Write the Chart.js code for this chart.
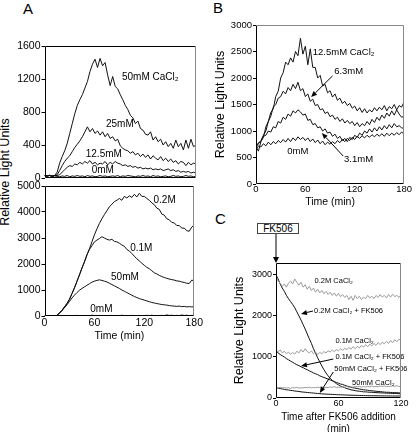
<!DOCTYPE html>
<html>
<head>
<meta charset="utf-8">
<script src="https://cdn.jsdelivr.net/npm/chart.js@4.4.1/dist/chart.umd.min.js"></script>
<style>
html, body { margin: 0; padding: 0; background: #fff; overflow: hidden; }
body { width: 416px; height: 432px; position: relative; font-family: 'Liberation Sans', Arial, sans-serif; }
canvas { position: absolute; }
.lbl { position: absolute; color: #000; font-size: 15px; line-height: 15px; }
</style>
</head>
<body>
<div class="lbl" style="left:23px;top:1px;">A</div>
<div class="lbl" style="left:213px;top:0px;">B</div>
<div class="lbl" style="left:215px;top:211px;">C</div>
<div style="position:absolute;left:-55px;top:165px;width:120px;height:14px;line-height:14px;font-size:12.5px;text-align:center;transform:rotate(-90deg);">Relative Light Units</div>
<div style="position:absolute;left:257px;top:223px;width:42px;height:11px;box-sizing:border-box;border:1px solid #444;font-size:10px;line-height:9px;text-align:center;">FK506</div>
<svg style="position:absolute;left:0;top:0" width="416" height="432">
  <line x1="276" y1="234" x2="276" y2="258" stroke="#000" stroke-width="1"/>
  <polygon points="273,257 279,257 276,263" fill="#000"/>
</svg>

<canvas id="aTop" width="204" height="152" style="left:0px;top:34px"></canvas>
<canvas id="aBot" width="204" height="172" style="left:0px;top:174px"></canvas>
<canvas id="bChart" width="200" height="200" style="left:212px;top:12px"></canvas>
<canvas id="cChart" width="184" height="186" style="left:232px;top:250px"></canvas>

<script>
// --- time axes (min) ---
const tA = [0,3,6,9,12,15,18,21,24,27,30,33,36,39,42,45,48,51,54,57,60,63,66,69,72,75,78,81,84,87,90,93,96,99,102,105,108,111,114,117,120,123,126,129,132,135,138,141,144,147,150,153,156,159,162,165,168,171,174,177,180];
const tC = [0,2,4,6,8,10,12,14,16,18,20,22,24,26,28,30,32,34,36,38,40,42,44,46,48,50,52,54,56,58,60,62,64,66,68,70,72,74,76,78,80,82,84,86,88,90,92,94,96,98,100,102,104,106,108,110,112,114,116,118,120];

// --- tick labels ---
const ticksTime180 = [0, 60, 120, 180];
const ticksTime120 = [0, 60, 120];
const ticksATop = [0, 400, 800, 1200, 1600];
const ticksABot = [0, 1000, 2000, 3000, 4000, 5000];
const ticksB = [0, 500, 1000, 1500, 2000, 2500, 3000];
const ticksC = [0, 1000, 2000, 3000];

// --- Panel A, top (CaCl2 mM) ---
const aTop50 = [30,25,35,20,30,70,180,260,330,420, 540,660,780,880,950,1010,1090,1170,1290,1380, 1440,1340,1450,1360,1400,1250,1120,1230,1110,1080, 1010,950,880,830,760,730,660,690,600,580, 530,520,560,460,500,440,470,400,440,380, 420,360,460,380,420,340,460,360,470,380, 400];
const aTop25 = [30,25,30,25,30,40,90,150,200,240, 270,320,370,410,450,500,560,620,560,600, 540,570,520,560,500,540,480,500,450,470, 390,360,340,330,300,320,280,300,260,290, 250,280,230,270,240,220,260,210,240,200, 230,190,210,170,200,190,150,190,160,180, 170];
const aTop12 = [30,25,30,25,30,30,40,70,100,130, 150,140,170,160,190,170,200,180,210,170, 190,160,180,170,200,160,190,170,200,180, 170,150,160,140,150,130,140,120,130,110, 120,110,120,100,110,100,110,90,100,110, 90,100,80,90,70,80,70,80,60,70, 60];
const aTop0 = [25,20,30,15,25,20,15,25,20,30, 15,25,20,30,20,25,15,30,20,25, 15,20,30,20,25,15,20,25,20,30, 15,25,20,30,25,20,15,25,20,30, 20,25,15,30,20,25,15,20,25,15, 20,30,20,25,15,20,30,20,25,15, 20];

// --- Panel A, bottom (CaCl2 M) ---
const aBot02 = [0,0,0,0,0,20,120,220,350,480, 640,860,1080,1330,1580,1840,2080,2350,2580,2850, 3120,3350,3560,3740,3900,4050,4200,4300,4400,4450, 4520,4450,4600,4540,4620,4560,4680,4580,4720,4600, 4600,4520,4450,4350,4280,4150,4100,3920,3880,3740, 3700,3600,3580,3480,3480,3380,3380,3280,3260,3420, 3500];
const aBot01 = [0,0,0,0,0,20,120,220,350,480, 640,860,1080,1330,1580,1840,2080,2350,2560,2700, 2850,2920,2980,3050,3000,2950,2920,2950,2870,2850, 2800,2730,2680,2560,2500,2400,2300,2200,2120,2030, 1950,1870,1820,1740,1660,1620,1560,1520,1480,1450, 1420,1400,1380,1350,1340,1310,1290,1260,1250,1380, 1350];
const aBot50 = [0,0,0,0,0,20,110,200,320,430, 560,690,800,900,990,1060,1120,1180,1240,1300, 1340,1370,1390,1370,1340,1310,1260,1210,1160,1110, 1060,1000,950,900,850,800,750,710,670,640, 610,580,550,520,500,480,460,440,430,420, 400,390,380,370,380,360,370,350,360,350, 360];
const aBot0 = [0,10,0,20,10,0,15,5,20,10, 0,15,10,25,5,15,0,20,10,30, 5,15,10,20,0,15,10,25,5,20, 10,30,15,20,5,25,10,20,0,15, 10,25,15,30,10,20,5,25,15,40, 20,30,10,25,15,35,20,30,10,25, 20];

// --- Panel B (CaCl2 mM) ---
const b125 = [700,620,800,880,1080,1180,1350,1420,1650,1750, 2000,2100,2300,2250,2380,2300,2500,2420,2750,2450, 2600,2250,2550,2200,2200,2000,2050,1850,1880,1720, 1760,1640,1700,1580,1620,1520,1560,1480,1520,1430, 1470,1380,1440,1350,1420,1340,1400,1360,1440,1380, 1450,1400,1480,1380,1460,1420,1500,1400,1480,1450, 1550];
const b63 = [700,760,820,920,1000,1180,1280,1450,1500,1620, 1650,1750,1700,1820,1760,1880,1800,1920,1760,1800, 1650,1700,1560,1600,1480,1500,1400,1420,1330,1360, 1270,1300,1220,1260,1180,1230,1150,1200,1140,1180, 1100,1160,1080,1140,1100,1180,1120,1220,1160,1260, 1200,1300,1240,1340,1280,1380,1300,1400,1320,1260, 1280];
const b31 = [700,780,800,900,920,1000,980,1080,1060,1180, 1150,1260,1220,1320,1280,1380,1340,1400,1360,1300, 1320,1200,1220,1120,1140,1060,1080,1000,1040,960, 980,900,940,860,900,820,860,800,880,840, 920,880,960,920,1000,960,1040,980,1060,1000, 1080,1020,1100,1040,1120,1060,1140,1080,1100,1060, 1050];
const b0 = [650,720,700,760,720,790,740,800,760,820, 780,840,790,860,800,870,820,890,840,880, 820,870,800,850,780,830,760,810,740,790, 750,800,760,820,780,840,800,860,820,880, 840,900,860,910,870,920,880,930,890,940, 900,950,900,960,910,960,920,970,930,980, 940];

// --- Panel C (after FK506) ---
const c02 = [2950,2850,2800,2720,2780,2700,2800,2850,2780,2900, 2820,2750,2820,2700,2760,2650,2720,2620,2680,2580, 2650,2560,2620,2540,2600,2520,2580,2500,2560,2480, 2550,2470,2520,2450,2500,2400,2480,2380,2500,2420, 2480,2400,2460,2420,2500,2440,2480,2420,2500,2450, 2520,2460,2500,2440,2520,2460,2530,2470,2500,2450, 2520];
const c02fk = [3000,2900,2780,2680,2600,2500,2420,2350,2280,2200, 2100,2000,1900,1790,1680,1560,1440,1330,1200,1090, 980,880,780,690,610,540,480,430,390,350, 320,290,270,250,230,215,200,190,180,170, 165,160,150,150,145,140,140,135,130,130, 125,125,120,120,115,115,110,110,110,105, 105];
const c01 = [1150,1130,1170,1100,1140,1080,1120,1060,1110,1070, 1140,1100,1180,1120,1200,1130,1100,1150,1080,1120, 1060,1110,1080,1130,1100,1150,1120,1170,1130,1180, 1150,1200,1160,1210,1180,1230,1190,1250,1200,1260, 1220,1280,1240,1300,1250,1310,1270,1330,1280,1350, 1300,1360,1320,1380,1330,1400,1350,1420,1370,1430, 1400];
const c01fk = [1150,1100,1060,1030,1000,960,930,900,870,840, 810,790,760,740,710,690,660,640,610,590, 570,540,520,500,480,460,440,420,400,380, 360,340,330,310,290,280,260,250,240,230, 220,210,200,195,190,180,175,170,165,160, 155,150,145,140,140,135,135,130,130,125, 125];
const c50 = [250,240,260,245,255,240,250,235,255,245, 260,240,250,245,260,250,265,245,255,250, 265,255,270,250,260,255,270,260,275,255, 265,260,275,265,280,260,270,265,280,270, 285,265,275,270,285,275,290,270,280,275, 290,280,295,275,285,280,295,285,300,280, 290];
const c50fk = [250,240,230,220,210,200,195,185,180,170, 165,160,150,145,140,135,130,125,120,115, 110,105,100,98,95,92,90,88,85,82, 80,78,76,74,72,70,68,66,65,64, 62,60,60,58,57,56,55,55,54,53, 52,52,51,50,50,50,49,49,48,48, 48];

const FONT = "'Liberation Sans', Arial, sans-serif";
Chart.defaults.font.family = FONT;
Chart.defaults.color = '#000';
Chart.defaults.animation = false;

const BLACK = '#111';
const GREY = '#9a9a9a';

function pts(t, v) { return t.map((x, i) => ({ x: x, y: v[i] })); }
function line(label, t, v, color) {
    return { label: label, data: pts(t, v), borderColor: color, borderWidth: 1, pointRadius: 0, fill: false, tension: 0 };
}

// frame around the plot area
const boxPlugin = {
    id: 'box',
    afterDraw(chart, args, opts) {
        const { ctx, chartArea: a } = chart;
        const L = Math.round(a.left) + 0.5, R = Math.round(a.right) - 0.5;
        const T = Math.round(a.top) + 0.5, B = Math.round(a.bottom) - 0.5;
        ctx.save();
        ctx.lineWidth = 1;
        ctx.strokeStyle = '#000';
        ctx.beginPath(); ctx.moveTo(L, T); ctx.lineTo(L, B); ctx.lineTo(R, B); ctx.stroke();
        ctx.strokeStyle = opts.top || '#000';
        ctx.beginPath(); ctx.moveTo(L, T); ctx.lineTo(R, T); ctx.stroke();
        ctx.strokeStyle = opts.right || '#888';
        ctx.beginPath(); ctx.moveTo(R, T); ctx.lineTo(R, B); ctx.stroke();
        ctx.restore();
    }
};

// curve labels and arrows, placed in data units
const notesPlugin = {
    id: 'notes',
    afterDatasetsDraw(chart, args, opts) {
        const { ctx, scales: { x, y } } = chart;
        ctx.save();
        ctx.fillStyle = '#000';
        ctx.strokeStyle = '#000';
        ctx.lineWidth = 1;
        ctx.font = opts.font;
        ctx.textBaseline = 'middle';
        ctx.textAlign = 'left';
        (opts.labels || []).forEach(l => {
            ctx.fillText(l.text, x.getPixelForValue(l.t), y.getPixelForValue(l.v));
        });
        (opts.arrows || []).forEach(a => {
            const x1 = x.getPixelForValue(a.t1), y1 = y.getPixelForValue(a.v1);
            const x2 = x.getPixelForValue(a.t2), y2 = y.getPixelForValue(a.v2);
            const ang = Math.atan2(y2 - y1, x2 - x1);
            const hl = 6, hw = 2.5;
            const bx = x2 - hl * Math.cos(ang), by = y2 - hl * Math.sin(ang);
            ctx.beginPath(); ctx.moveTo(x1, y1); ctx.lineTo(bx, by); ctx.stroke();
            ctx.beginPath();
            ctx.moveTo(x2, y2);
            ctx.lineTo(bx + hw * Math.sin(ang), by - hw * Math.cos(ang));
            ctx.lineTo(bx - hw * Math.sin(ang), by + hw * Math.cos(ang));
            ctx.closePath(); ctx.fill();
        });
        ctx.restore();
    }
};

const plain = v => String(v);

function yAxis(min, max, tickList, width, size, title, titlePad) {
    return {
        type: 'linear', min: min, max: max,
        afterFit: s => { s.width = width; },
        afterBuildTicks: s => { s.ticks = tickList.map(v => ({ value: v })); },
        ticks: { autoSkip: false, font: { size: size }, padding: 1, color: '#000', callback: plain },
        grid: { display: true, drawOnChartArea: false, drawTicks: true, tickLength: 3, color: '#000' },
        border: { display: false },
        title: title ? { display: true, text: title, font: { size: 12.5 }, padding: { top: titlePad, bottom: 0 } } : { display: false }
    };
}
function xAxis(max, tickList, height, size, showTicks, title, tickPad) {
    return {
        type: 'linear', min: 0, max: max,
        afterFit: s => { s.height = height; },
        afterBuildTicks: s => { s.ticks = tickList.map(v => ({ value: v })); },
        ticks: { display: showTicks, autoSkip: false, font: { size: size }, padding: tickPad, maxRotation: 0, color: '#000', callback: plain },
        grid: { display: false, drawTicks: false },
        border: { display: false },
        title: title || { display: false }
    };
}
function baseOptions(pad, scales, notes, box) {
    return {
        responsive: false,
        animation: false,
        layout: { padding: pad },
        scales: scales,
        plugins: { legend: { display: false }, tooltip: { enabled: false }, notes: notes, box: box || {} }
    };
}

const SUB = 'CaCl\u2082';

// Panel A top
new Chart(document.getElementById('aTop'), {
    type: 'line',
    data: { datasets: [
        line('0mM', tA, aTop0, BLACK),
        line('12.5mM', tA, aTop12, BLACK),
        line('25mM', tA, aTop25, BLACK),
        line('50mM', tA, aTop50, BLACK)
    ] },
    options: baseOptions({ top: 12, right: 8, left: 0, bottom: 0 }, {
        x: xAxis(180, ticksTime180, 8, 10.5, false, null, 0),
        y: yAxis(0, 1600, ticksATop, 44.5, 10.5, null, 0)
    }, {
        font: '10px ' + FONT,
        labels: [
            { text: '50mM ' + SUB, t: 92, v: 1224 },
            { text: '25mM', t: 73, v: 654 },
            { text: '12.5mM', t: 49, v: 291 },
            { text: '0mM', t: 56, v: 97 }
        ]
    }),
    plugins: [boxPlugin, notesPlugin]
});

// Panel A bottom
new Chart(document.getElementById('aBot'), {
    type: 'line',
    data: { datasets: [
        line('0mM', tA, aBot0, BLACK),
        line('50mM', tA, aBot50, BLACK),
        line('0.1M', tA, aBot01, BLACK),
        line('0.2M', tA, aBot02, BLACK)
    ] },
    options: baseOptions({ top: 12, right: 8, left: 0, bottom: 0 }, {
        x: xAxis(180, ticksTime180, 30, 10.5, true, { display: true, text: 'Time (min)', font: { size: 10.5 }, padding: { top: 0, bottom: 4 } }, 1),
        y: yAxis(0, 5000, ticksABot, 44.5, 10.5, null, 0)
    }, {
        font: '10px ' + FONT,
        labels: [
            { text: '0.2M', t: 131, v: 4460 },
            { text: '0.1M', t: 103, v: 2615 },
            { text: '50mM', t: 80, v: 1500 },
            { text: '0mM', t: 55, v: 270 }
        ]
    }),
    plugins: [boxPlugin, notesPlugin]
});

// Panel B
new Chart(document.getElementById('bChart'), {
    type: 'line',
    data: { datasets: [
        line('0mM', tA, b0, BLACK),
        line('3.1mM', tA, b31, BLACK),
        line('6.3mM', tA, b63, BLACK),
        line('12.5mM', tA, b125, BLACK)
    ] },
    options: baseOptions({ top: 13, right: 5, left: 0, bottom: 0 }, {
        x: xAxis(180, ticksTime180, 28, 9.5, true, { display: true, text: 'Time (min)', font: { size: 10.5 }, padding: { top: 0, bottom: 4 } }, 0),
        y: yAxis(0, 3000, ticksB, 44, 9.5, 'Relative Light Units', 1)
    }, {
        font: '9.5px ' + FONT,
        labels: [
            { text: '12.5mM ' + SUB, t: 69, v: 2490 },
            { text: '6.3mM', t: 95, v: 2130 },
            { text: '0mM', t: 38, v: 623 },
            { text: '3.1mM', t: 107, v: 472 }
        ],
        arrows: [
            { t1: 93, v1: 2040, t2: 67, v2: 1640 },
            { t1: 106, v1: 528, t2: 80, v2: 962 }
        ]
    }, { top: '#888', right: '#888' }),
    plugins: [boxPlugin, notesPlugin]
});

// Panel C
new Chart(document.getElementById('cChart'), {
    type: 'line',
    data: { datasets: [
        line('0.2M CaCl2', tC, c02, GREY),
        line('0.1M CaCl2', tC, c01, GREY),
        line('50mM CaCl2', tC, c50, GREY),
        line('0.2M CaCl2 + FK506', tC, c02fk, BLACK),
        line('0.1M CaCl2 + FK506', tC, c01fk, BLACK),
        line('50mM CaCl2 + FK506', tC, c50fk, BLACK)
    ] },
    options: baseOptions({ top: 13, right: 15, left: 0, bottom: 0 }, {
        x: xAxis(120, ticksTime120, 38, 9, true, { display: true, text: ['Time after FK506 addition', '(min)'], font: { size: 10, lineHeight: 1.15 }, padding: { top: 0, bottom: 1.25 } }, 0),
        y: yAxis(0, 3290, ticksC, 44, 9, 'Relative Light Units', 0)
    }, {
        font: '7.5px ' + FONT,
        labels: [
            { text: '0.2M ' + SUB, t: 37, v: 2850 },
            { text: '0.2M ' + SUB + ' + FK506', t: 36.5, v: 2120 },
            { text: '0.1M ' + SUB, t: 57, v: 1390 },
            { text: '0.1M ' + SUB + ' + FK506', t: 57, v: 1000 },
            { text: '50mM ' + SUB + ' + FK506', t: 56, v: 707 },
            { text: '50mM ' + SUB, t: 73, v: 366 }
        ],
        arrows: [
            { t1: 35.5, v1: 2120, t2: 24, v2: 2050 },
            { t1: 55, v1: 950, t2: 24, v2: 780 },
            { t1: 55, v1: 634, t2: 42, v2: 122 }
        ]
    }),
    plugins: [boxPlugin, notesPlugin]
});
</script>
</body>
</html>
